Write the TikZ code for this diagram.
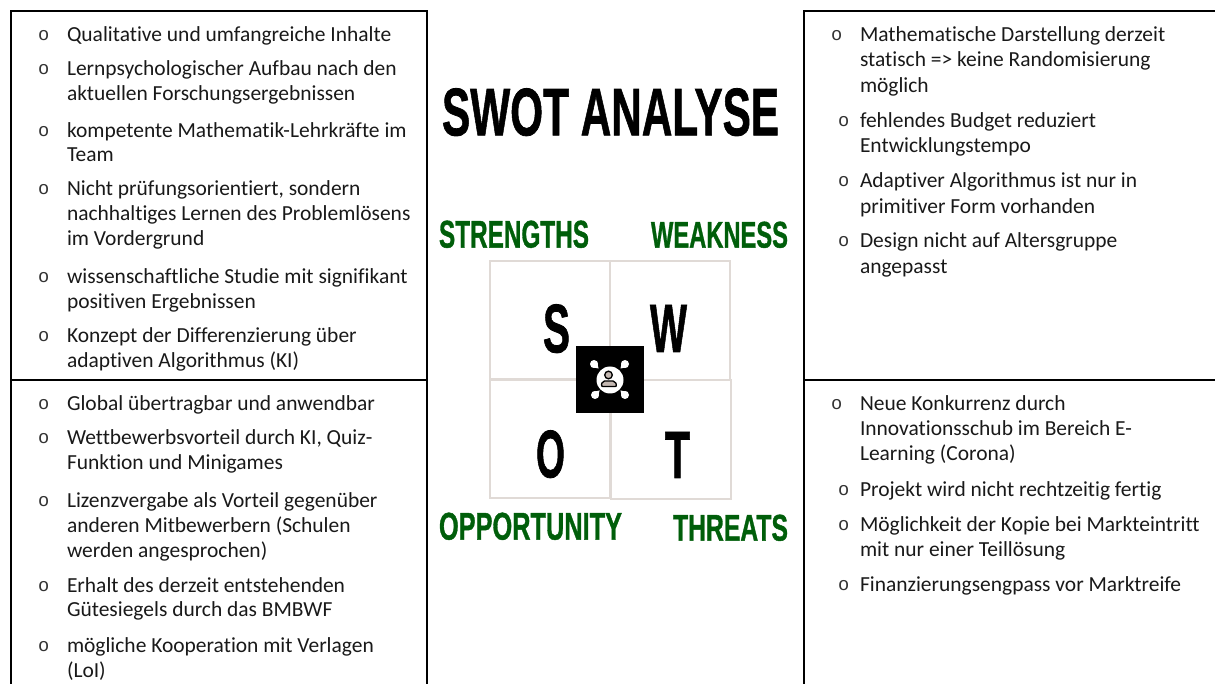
\documentclass[tikz,border=0pt]{standalone}
\usepackage{fontspec}
\setmainfont{Carlito}[RawFeature={-liga;-clig;-dlig}]
\newfontfamily\headfont{Liberation Sans Bold}[FakeBold=1.2]
\newfontfamily\bulletfont{Liberation Mono}
\definecolor{swotgreen}{RGB}{0,94,10}
\definecolor{gridgrey}{RGB}{224,218,214}
\definecolor{personfill}{RGB}{196,184,178}
\tikzset{
  frameline/.style={draw=black,line width=1.6pt},
  gridcell/.style={draw=gridgrey,line width=1.1pt},
  bodyline/.style={anchor=base west,inner sep=0pt,outer sep=0pt,yshift=-1.1pt,font=\fontsize{16.1pt}{18pt}\selectfont,text=black!90},
  bulletmark/.style={anchor=base west,inner sep=0pt,outer sep=0pt,yshift=-0.6pt,font=\bulletfont\fontsize{14pt}{16pt}\selectfont,text=black!80},
  headtext/.style={inner sep=0pt,outer sep=0pt},
}
\newcommand{\headbox}[3]{\resizebox{#1\dimexpr0.75pt\relax}{#2\dimexpr0.75pt\relax}{\headfont #3}}
\begin{document}
\begin{tikzpicture}[x=0.75pt,y=-0.75pt]
\useasboundingbox (0,0) rectangle (1215,684);
% frames
\coordinate (lt) at (11,11); \coordinate (ltr) at (427,11);
\coordinate (lb) at (11,684); \coordinate (lbr) at (427,684);
\coordinate (lm) at (11,380); \coordinate (lmr) at (427,380);
\coordinate (rt) at (804,11); \coordinate (rtr) at (1215,11);
\coordinate (rb) at (804,684); \coordinate (rm) at (804,380); \coordinate (rmr) at (1215,380);
\draw[frameline] (lb) -- (lt) -- (ltr) -- (lbr);
\draw[frameline] (lm) -- (lmr);
\draw[frameline] (rb) -- (rt) -- (rtr);
\draw[frameline] (rm) -- (rmr);
% left
\foreach \n/\y/\t in {a1/40/Qualitative und umfangreiche Inhalte,a2/74/Lernpsychologischer Aufbau nach den,a3/99/aktuellen Forschungsergebnissen,a4/136/kompetente Mathematik-Lehrkräfte im,a5/160/Team,a6/194/{Nicht prüfungsorientiert, sondern},a7/219/nachhaltiges Lernen des Problemlösens,a8/244/im Vordergrund,a9/282/wissenschaftliche Studie mit signifikant,a10/307/positiven Ergebnissen,a11/341/Konzept der Differenzierung über,a12/366/adaptiven Algorithmus (KI),b1/409/Global übertragbar und anwendbar,b2/443/{Wettbewerbsvorteil durch KI, Quiz-},b3/468/Funktion und Minigames,b4/506/Lizenzvergabe als Vorteil gegenüber,b5/531/anderen Mitbewerbern (Schulen,b6/556/werden angesprochen),b7/591/Erhalt des derzeit entstehenden,b8/615/Gütesiegels durch das BMBWF,b9/651/mögliche Kooperation mit Verlagen,b10/676/(LoI)}
  \node[bodyline] (\n) at (67,\y) {\t};
\foreach \n/\y in {pa1/40,pa2/74,pa4/136,pa6/194,pa9/282,pa11/341,pb1/409,pb2/443,pb4/506,pb7/591,pb9/651}
  \node[bulletmark] (\n) at (38,\y) {o};
% right
\foreach \n/\y/\t in {c1/40/Mathematische Darstellung derzeit,c2/65/statisch => keine Randomisierung,c3/91/möglich,c4/126/fehlendes Budget reduziert,c5/151/Entwicklungstempo,c6/186/Adaptiver Algorithmus ist nur in,c7/212/primitiver Form vorhanden,c8/246/Design nicht auf Altersgruppe,c9/272/angepasst,d1/409/Neue Konkurrenz durch,d2/434/Innovationsschub im Bereich E-,d3/459/Learning (Corona),d4/495/Projekt wird nicht rechtzeitig fertig,d5/530/Möglichkeit der Kopie bei Markteintritt,d6/555/mit nur einer Teillösung,d7/590/Finanzierungsengpass vor Marktreife}
  \node[bodyline] (\n) at (860,\y) {\t};
\foreach \n/\x/\y in {pc1/831/40,pc4/838/126,pc6/838/186,pc8/838/246,pd1/831/409,pd4/838/495,pd5/838/530,pd7/838/590}
  \node[bulletmark] (\n) at (\x,\y) {o};
% headings
\node[headtext,anchor=south west] (title) at (442,136) {\headbox{337}{47}{SWOT ANALYSE}};
\node[headtext,anchor=south west,text=swotgreen] (hs) at (439,248) {\headbox{150}{27}{STRENGTHS}};
\node[headtext,anchor=south west,text=swotgreen] (hw) at (651,248) {\headbox{137}{26}{WEAKNESS}};
\node[headtext,anchor=south west,text=swotgreen] (ho) at (439,540) {\headbox{183}{27}{OPPORTUNITY}};
\node[headtext,anchor=south west,text=swotgreen] (ht) at (673,541) {\headbox{115}{26}{THREATS}};
% grid
\draw[gridcell] (490,261) rectangle (610,379);
\draw[gridcell] (610,261) rectangle (730,380);
\draw[gridcell] (490,380) rectangle (610,498);
\draw[gridcell] (611,380) rectangle (731,499);
\node[headtext,anchor=south west] (ls) at (543,353) {\headbox{27}{48}{S}};
\node[headtext,anchor=south west] (lw) at (650,352) {\headbox{37}{47}{W}};
\node[headtext,anchor=south west] (lo) at (536,478) {\headbox{29}{47}{O}};
\node[headtext,anchor=south west] (lt2) at (665,478) {\headbox{25}{46}{T}};
% icon
\fill[black] (576,346) rectangle (644,413);
\coordinate (ic) at (610,380);
\foreach \x/\y/\px/\py in {594/364/598.5/368.5,625/364/620.5/368.5,595/395/599.5/390.5,625/395/620.5/390.5} {
  \fill[white] (\x,\y) circle (4);
  \fill[white] (\x-3,\y+3) -- (\px,\py) -- (\x+3,\y-3) -- cycle;
  \fill[white] (\x-3,\y-3) -- (\px,\py) -- (\x+3,\y+3) -- cycle;
}
\fill[white] (ic) circle (13.5);
\filldraw[fill=personfill,draw=black,line width=1pt] (608.5,375) circle (3.8);
\filldraw[fill=personfill,draw=black,line width=1pt,rounded corners=1.5] (601,386.5) -- (602.5,381) -- (615,381) -- (617,386.5) -- cycle;
\end{tikzpicture}
\end{document}
